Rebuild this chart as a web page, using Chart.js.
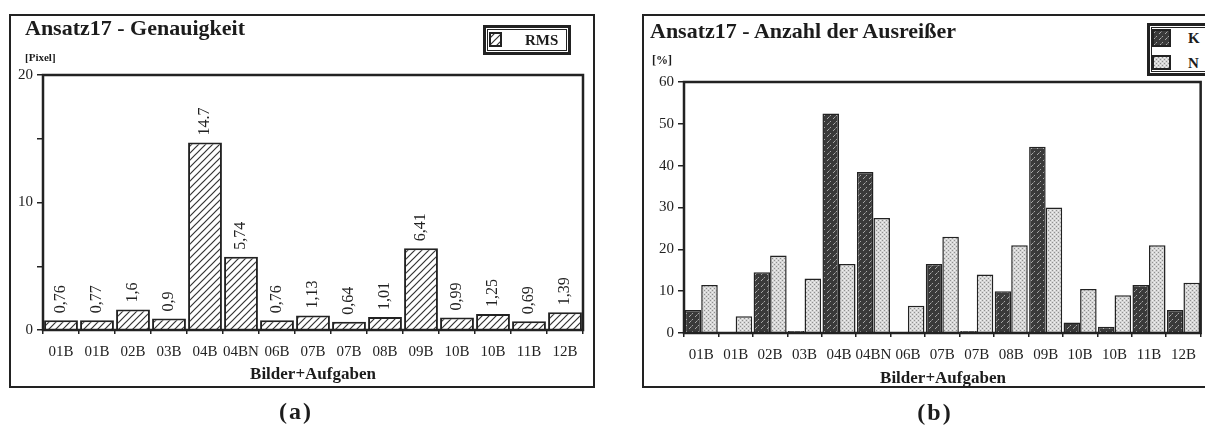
<!DOCTYPE html>
<html>
<head>
<meta charset="utf-8">
<script src="https://cdn.jsdelivr.net/npm/chart.js@4.4.1/dist/chart.umd.min.js"></script>
<style>
body { margin: 0; width: 1205px; height: 430px; overflow: hidden; background: #fff; position: relative;
  font-family: "Liberation Serif", "DejaVu Serif", serif; color: #1c1c1c; }
.frame { position: absolute; border: 2px solid #222; box-sizing: border-box; }
canvas.chart { position: absolute; top: 0; }
.txt { position: absolute; white-space: nowrap; line-height: 1; }
.title { font-weight: bold; font-size: 22px; }
.xtitle { font-weight: bold; font-size: 17px; transform: translateX(-50%); }
.caption { font-weight: bold; font-size: 24px; letter-spacing: 2px; transform: translateX(-50%); }
.legend { position: absolute; background: #fff; box-sizing: border-box; border: 3px solid #222;
  box-shadow: inset 0 0 0 1px #fff, inset 0 0 0 2px #222; z-index: 2; }
.legend .item { position: absolute; font-weight: bold; font-size: 15px; line-height: 1; }
.legend canvas { position: absolute; }
</style>
</head>
<body>
<div class="frame" style="left:9px;top:14px;width:586px;height:374px"></div>
<div class="frame" style="left:642px;top:14px;width:600px;height:374px"></div>

<canvas id="chartA" class="chart" width="600" height="400" style="left:0"></canvas>
<canvas id="chartB" class="chart" width="595" height="400" style="left:610px"></canvas>

<div class="txt title" style="left:25px;top:17px">Ansatz17 - Genauigkeit</div>
<div class="txt" style="left:25px;top:52px;font-size:11px;font-weight:bold">[Pixel]</div>
<div class="txt xtitle" style="left:313px;top:365px">Bilder+Aufgaben</div>
<div class="txt caption" style="left:296px;top:399px">(a)</div>

<div class="txt title" style="left:650px;top:20px">Ansatz17 - Anzahl der Ausreißer</div>
<div class="txt" style="left:652px;top:54px;font-size:12px;font-weight:bold">[%]</div>
<div class="txt xtitle" style="left:943px;top:369px">Bilder+Aufgaben</div>
<div class="txt caption" style="left:935px;top:400px">(b)</div>

<div id="legendA" class="legend" style="left:483px;top:25px;width:88px;height:30px"></div>
<div id="legendB" class="legend" style="left:1147px;top:23px;width:70px;height:53px"></div>

<script>
// data
const categories = ['01B', '01B', '02B', '03B', '04B', '04BN', '06B', '07B', '07B', '08B', '09B', '10B', '10B', '11B', '12B'];
const rmsValues = [0.76, 0.77, 1.6, 0.9, 14.7, 5.74, 0.76, 1.13, 0.64, 1.01, 6.41, 0.99, 1.25, 0.69, 1.39];
const rmsLabels = ['0,76', '0,77', '1,6', '0,9', '14.7', '5,74', '0,76', '1,13', '0,64', '1,01', '6,41', '0,99', '1,25', '0,69', '1,39'];
const kValues = [5.5, 0, 14.5, 0.5, 52.5, 38.5, 0, 16.5, 0.5, 10, 44.5, 2.5, 1.5, 11.5, 5.5];
const nValues = [11.5, 4, 18.5, 13, 16.5, 27.5, 6.5, 23, 14, 21, 30, 10.5, 9, 21, 12];
const yLabelsA = [0, 10, 20];
const yLabelsB = [0, 10, 20, 30, 40, 50, 60];

const ink = '#222';

function makePattern(kind) {
    const c = document.createElement('canvas');
    const ctx = c.getContext('2d');
    if (kind === 'hatch') {
        c.width = 7; c.height = 7;
        ctx.fillStyle = '#fff';
        ctx.fillRect(0, 0, 7, 7);
        ctx.strokeStyle = '#333';
        ctx.lineWidth = 1.2;
        ctx.beginPath();
        ctx.moveTo(-1, 8); ctx.lineTo(8, -1);
        ctx.moveTo(-1, 1); ctx.lineTo(1, -1);
        ctx.moveTo(6, 8); ctx.lineTo(8, 6);
        ctx.stroke();
    } else if (kind === 'dark') {
        c.width = 6; c.height = 6;
        ctx.fillStyle = '#3a3a3a';
        ctx.fillRect(0, 0, 6, 6);
        ctx.fillStyle = '#a8a8a8';
        ctx.fillRect(1, 4, 1, 1);
        ctx.fillRect(2, 3, 1, 1);
        ctx.fillRect(4, 1, 1, 1);
        ctx.fillStyle = '#707070';
        ctx.fillRect(3, 2, 1, 1);
    } else {
        c.width = 4; c.height = 4;
        ctx.fillStyle = '#d6d6d6';
        ctx.fillRect(0, 0, 4, 4);
        ctx.fillStyle = '#909090';
        ctx.fillRect(0, 0, 1, 1);
        ctx.fillRect(2, 2, 1, 1);
        ctx.fillStyle = '#f0f0f0';
        ctx.fillRect(2, 0, 1, 1);
        ctx.fillRect(0, 2, 1, 1);
    }
    return ctx.createPattern(c, 'repeat');
}

// frame around the plot area
const plotFrame = {
    id: 'plotFrame',
    afterDraw(chart) {
        const { ctx, chartArea } = chart;
        ctx.save();
        ctx.strokeStyle = ink;
        ctx.lineWidth = 2.5;
        ctx.strokeRect(chartArea.left, chartArea.top, chartArea.right - chartArea.left, chartArea.bottom - chartArea.top);
        ctx.restore();
    }
};

// vertical value labels above the RMS bars
const barLabels = {
    id: 'barLabels',
    afterDatasetsDraw(chart) {
        const ctx = chart.ctx;
        const meta = chart.getDatasetMeta(0);
        ctx.save();
        ctx.fillStyle = ink;
        ctx.font = '16px "Liberation Serif"';
        ctx.textAlign = 'left';
        ctx.textBaseline = 'middle';
        meta.data.forEach((bar, i) => {
            ctx.save();
            ctx.translate(bar.x, bar.y - 7);
            ctx.rotate(-Math.PI / 2);
            ctx.fillText(rmsLabels[i], 0, 0);
            ctx.restore();
        });
        ctx.restore();
    }
};

function axes(maxY, labelled, yWidth, xHeight) {
    return {
        x: {
            grid: { drawOnChartArea: false, drawTicks: true, tickLength: 4, color: ink, lineWidth: 1.5, offset: true },
            border: { display: false },
            ticks: { color: ink, font: { family: 'Liberation Serif', size: 15 }, padding: 9,
                autoSkip: false, maxRotation: 0, minRotation: 0 },
            afterFit(scale) { scale.height = xHeight; }
        },
        y: {
            min: 0,
            max: maxY,
            grid: { drawOnChartArea: false, drawTicks: true, tickLength: 6, color: ink, lineWidth: 1.5 },
            border: { display: false },
            ticks: { stepSize: 5, color: ink, font: { family: 'Liberation Serif', size: 15 }, padding: 4,
                callback: (v) => labelled.includes(v) ? v : '' },
            afterFit(scale) { scale.width = yWidth; }
        }
    };
}

function buildLegend(chart, boxId, spots) {
    const box = document.getElementById(boxId);
    chart.data.datasets.forEach((ds, i) => {
        const s = spots[i];
        const sw = document.createElement('canvas');
        sw.width = s.w; sw.height = s.h;
        sw.style.left = s.x + 'px';
        sw.style.top = s.y + 'px';
        const c = sw.getContext('2d');
        c.fillStyle = ds.backgroundColor;
        c.fillRect(0, 0, s.w, s.h);
        c.strokeStyle = ink;
        c.lineWidth = 2;
        c.strokeRect(1, 1, s.w - 2, s.h - 2);
        box.appendChild(sw);
        const label = document.createElement('div');
        label.className = 'item';
        label.textContent = ds.label;
        label.style.left = s.tx + 'px';
        label.style.top = s.ty + 'px';
        box.appendChild(label);
    });
}

const chartA = new Chart(document.getElementById('chartA'), {
    type: 'bar',
    data: {
        labels: categories,
        datasets: [{
            label: 'RMS',
            data: rmsValues,
            backgroundColor: makePattern('hatch'),
            borderColor: ink,
            borderWidth: 2,
            barPercentage: 0.94,
            categoryPercentage: 1.0
        }]
    },
    options: {
        responsive: false,
        animation: false,
        devicePixelRatio: 1,
        layout: { padding: { left: 0, right: 17, top: 75, bottom: 0 } },
        plugins: { legend: { display: false }, tooltip: { enabled: false } },
        scales: axes(20, yLabelsA, 43, 70)
    },
    plugins: [plotFrame, barLabels]
});

const chartB = new Chart(document.getElementById('chartB'), {
    type: 'bar',
    data: {
        labels: categories,
        datasets: [{
            label: 'K',
            data: kValues,
            backgroundColor: makePattern('dark'),
            borderColor: ink,
            borderWidth: 1.5,
            barPercentage: 1.0,
            categoryPercentage: 0.96
        }, {
            label: 'N',
            data: nValues,
            backgroundColor: makePattern('light'),
            borderColor: ink,
            borderWidth: 1.5,
            barPercentage: 1.0,
            categoryPercentage: 0.96
        }]
    },
    options: {
        responsive: false,
        animation: false,
        devicePixelRatio: 1,
        layout: { padding: { left: 0, right: 2, top: 82, bottom: 0 } },
        plugins: { legend: { display: false }, tooltip: { enabled: false } },
        scales: axes(60, yLabelsB, 74, 67)
    },
    plugins: [plotFrame]
});

buildLegend(chartA, 'legendA', [{ x: 3, y: 4, w: 13, h: 15, tx: 39, ty: 5 }]);
buildLegend(chartB, 'legendB', [
    { x: 2, y: 3, w: 19, h: 18, tx: 38, ty: 5 },
    { x: 2, y: 29, w: 19, h: 15, tx: 38, ty: 30 }
]);
</script>
</body>
</html>
